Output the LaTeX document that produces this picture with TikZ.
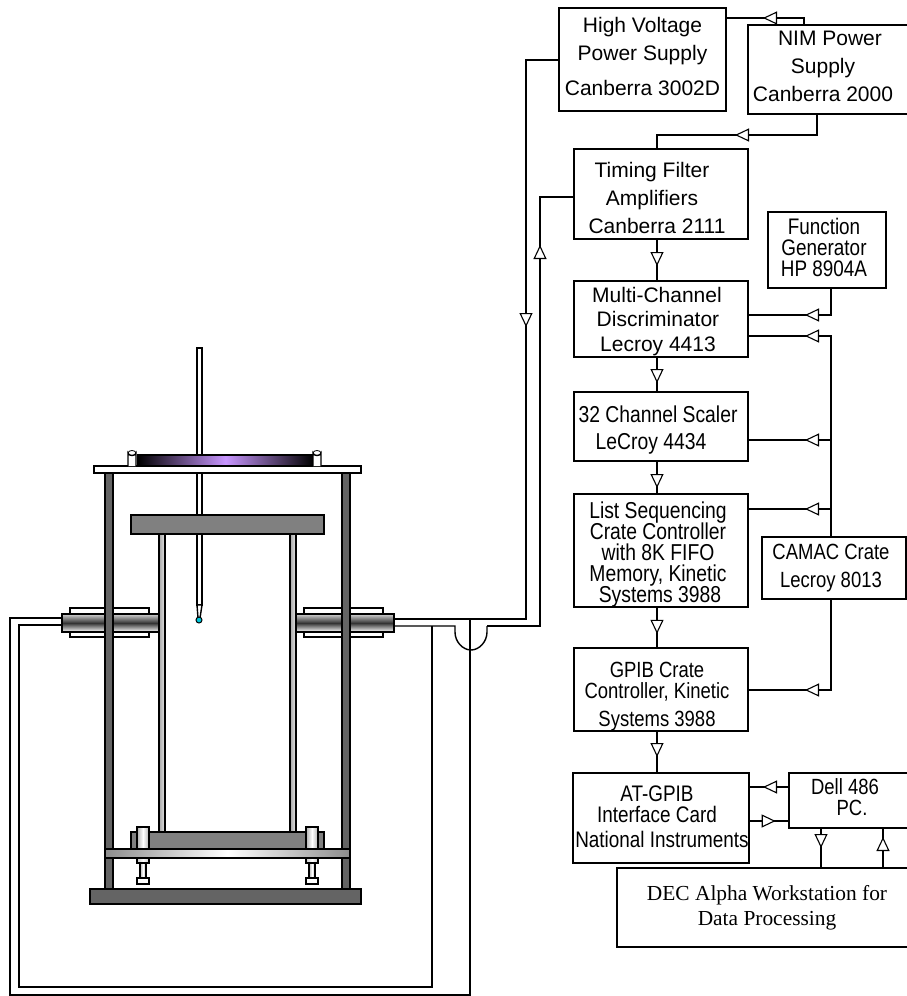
\documentclass[tikz,border=0pt]{standalone}
\usepackage{fontspec}
\setmainfont{Liberation Sans}
\newfontfamily\slimfont[FakeStretch=0.84]{Liberation Sans}
\newfontfamily\deskfont{Liberation Serif}
\usetikzlibrary{arrows.meta, decorations.markings}
\definecolor{legdark}{RGB}{100, 100, 100}
\definecolor{platemid}{RGB}{128, 128, 128}
\definecolor{diskglow}{RGB}{200, 150, 255}
\definecolor{beadcyan}{RGB}{0, 200, 220}
\newcommand{\nudge}[1]{\hspace*{#1pt}}
\newcommand{\droptext}[1]{\rule{0pt}{#1pt}}
\newcommand{\lifttext}[1]{\rule[-#1pt]{0pt}{#1pt}}
\newcommand{\tightlines}{\lineskiplimit=-20pt\relax}

\begin{document}
\begin{tikzpicture}[
  x=1pt, y=-1pt,
  unit/.style={draw, line width=2pt, outer sep=0pt, inner sep=0pt, align=center},
  widetext/.style={font=\fontsize{21}{28}\selectfont},
  slimtext/.style={font=\slimfont\fontsize{#1}{21}\selectfont\tightlines},
  wire/.style={line width=1.8pt},
  thinwire/.style={line width=1.4pt},
  part/.style={draw, line width=1.4pt},
  flowtip/.style={wire, postaction={decorate}, decoration={markings, mark=at position #1pt with {\arrow{Triangle[open, fill=white, length=14pt, width=13pt, line width=1.1pt]}}}}
]
  \useasboundingbox (0,0) rectangle (907,996);

  \node[unit, widetext, minimum width=167, minimum height=103] (hv) at (642.5,59.5) {High Voltage\\Power Supply\\[7pt]Canberra 3002D\lifttext{7}};
  \node[unit, widetext, minimum width=161, minimum height=89] (nim) at (828.5,69.5) {\nudge{3}NIM Power\\\nudge{-11}Supply\\\nudge{-11}Canberra 2000\lifttext{6}};
  \node[unit, widetext, minimum width=174, minimum height=90] (tfa) at (661,194) {\droptext{24}\nudge{-18}Timing Filter\\\nudge{-18}Amplifiers\\\nudge{-8}Canberra 2111};
  \node[unit, slimtext=22.5, minimum width=118, minimum height=76] (fgen) at (827,250) {\nudge{-6}Function\\\nudge{-6}Generator\\\nudge{-6}HP 8904A\lifttext{6}};
  \node[unit, font=\fontsize{21}{24.5}\selectfont, minimum width=174, minimum height=76] (mcd) at (661,319) {\droptext{20}\nudge{-8}Multi-Channel\\\nudge{-6}Discriminator\\\nudge{-6}Lecroy 4413};
  \node[unit, font=\slimfont\fontsize{23}{27}\selectfont, minimum width=174, minimum height=69] (scaler) at (661,426.5) {\droptext{23}\nudge{-6}32 Channel Scaler\\\nudge{-20}LeCroy 4434};
  \node[unit, slimtext=23, minimum width=174, minimum height=111] (fifo) at (661,550.5) {\droptext{24}\nudge{-6}List Sequencing\\\nudge{-6}Crate Controller\\\nudge{-6}with 8K FIFO\\\nudge{-6}Memory, Kinetic\\\nudge{-2}Systems 3988};
  \node[unit, font=\slimfont\fontsize{22}{28}\selectfont, minimum width=144, minimum height=62] (camac) at (834,568) {\nudge{-6}CAMAC Crate\\\nudge{-6}Lecroy 8013};
  \node[unit, slimtext=22, minimum width=174, minimum height=83] (gpib) at (661,689.5) {\droptext{29}\nudge{-8}GPIB Crate\\\nudge{-8}Controller, Kinetic\\[7pt]\nudge{-8}Systems 3988};
  \node[unit, slimtext=22.5, minimum width=174, minimum height=90] (atcard) at (661,818) {\nudge{-8}AT-GPIB\\\nudge{-8}Interface Card\\[4pt]\nudge{2}National Instruments\lifttext{3}};
  \node[unit, slimtext=22, minimum width=120, minimum height=55] (dell) at (849,800.5) {\nudge{-8}Dell 486\\\nudge{6}PC.\lifttext{6}};
  \node[unit, line width=1.2pt, font=\deskfont\fontsize{21.4}{25}\selectfont, minimum width=292, minimum height=79] (alpha) at (763,907.5) {\nudge{8}DEC Alpha Workstation for\\\nudge{8}Data Processing};

  \coordinate (feedA) at (394,619);
  \coordinate (feedB) at (394,626);
  \coordinate (humpL) at (455,626);
  \coordinate (humpR) at (487,626);
  \coordinate (returnA) at (62,618);
  \coordinate (returnB) at (62,625);

  \draw[flowtip=48] (nim.north -| 804,0) -- (804,18) -- (hv.east |- 0,18);
  \draw[flowtip=300] (hv.west |- 0,60) -- (526,60) -- (526,619) -- (feedA);
  \draw[flowtip=103] (nim.south -| 817,0) -- (817,135) -- (657,135) -- (tfa.north -| 657,0);
  \draw[flowtip=434] (humpR) -- (540,626) -- (540,197) -- (tfa.west |- 0,197);
  \draw[flowtip=27] (tfa.south -| 657,0) -- (mcd.north -| 657,0);
  \draw[flowtip=26] (mcd.south -| 657,0) -- (scaler.north -| 657,0);
  \draw[flowtip=27] (scaler.south -| 657,0) -- (fifo.north -| 657,0);
  \draw[flowtip=27] (fifo.south -| 657,0) -- (gpib.north -| 657,0);
  \draw[flowtip=26] (gpib.south -| 657,0) -- (atcard.north -| 657,0);
  \draw[flowtip=53] (fgen.south -| 831,0) -- (831,315) -- (mcd.east |- 0,315);
  \draw[flowtip=227] (camac.north -| 831,0) -- (831,336) -- (mcd.east |- 0,336);
  \draw[flowtip=26] (831,440) -- (scaler.east |- 0,440);
  \draw[flowtip=26] (831,509) -- (fifo.east |- 0,509);
  \draw[flowtip=117] (camac.south -| 831,0) -- (831,690) -- (gpib.east |- 0,690);
  \draw[flowtip=26] (dell.west |- 0,787) -- (atcard.east |- 0,787);
  \draw[flowtip=27] (atcard.east |- 0,821) -- (dell.west |- 0,821);
  \draw[flowtip=20] (dell.south -| 821,0) -- (alpha.north -| 821,0);
  \draw[flowtip=31] (alpha.north -| 883,0) -- (dell.south -| 883,0);

  \draw[thinwire] (feedB) -- (humpL) -- (455,632) .. controls (455,642) and (463,650) .. (471,650) .. controls (479,650) and (487,642) .. (487,632) -- (humpR);
  \draw[thinwire] (feedB -| 432,0) -- (432,987) -- (19,987) -- (19,625) -- (returnB);
  \draw[thinwire] (feedA -| 470,0) -- (470,995) -- (10,995) -- (10,618) -- (returnA);

  \draw[part, fill=white] (197,348) rectangle (202,605);
  \draw[part, fill=white] (197,605) -- (202,605) -- (200,618) -- (198,618) -- cycle;
  \draw[part, line width=1pt, fill=beadcyan] (199,620) circle (3);

  \foreach \cx in {62,296} {
    \draw[part, fill=white] (\cx+8,608) rectangle (\cx+87,637);
    \draw[part, top color=gray!35, bottom color=white, middle color=black!80] (\cx,614) rectangle (\cx+98,632);
  }
  \foreach \cx in {105,342} {
    \draw[part, fill=legdark] (\cx,473) rectangle (\cx+8,891);
  }
  \foreach \cx in {159,290} {
    \draw[part, left color=gray!70, right color=gray!20] (\cx,534) rectangle (\cx+6,833);
  }

  \draw[part, fill=white] (94,466) rectangle (361,473);
  \draw[part, left color=black, right color=black, middle color=diskglow] (138,455) rectangle (313,466);
  \foreach \cx in {128,313} {
    \draw[part, fill=white] (\cx,466) -- (\cx,453) arc (180:0:4 and 2.5) -- (\cx+8,466);
    \draw[part, line width=0.8pt] (\cx,453) arc (180:360:4 and 2.5);
  }
  \draw[part, fill=platemid] (131,515) rectangle (324,534);
  \draw[part, fill=platemid] (131,832) rectangle (324,850);
  \foreach \cx in {137,306} {
    \draw[part, left color=gray!60, right color=gray!60, middle color=white] (\cx,827) rectangle (\cx+12,849);
    \draw[part, left color=gray!40, right color=gray!40, middle color=white] (\cx,858) rectangle (\cx+12,863);
    \draw[part, left color=gray!60, right color=gray!60, middle color=white] (\cx+3,863) rectangle (\cx+9,878);
    \draw[part, fill=white] (\cx,878) rectangle (\cx+12,884);
  }
  \draw[part, left color=gray!90, right color=gray!90, middle color=white] (105,849) rectangle (350,858);
  \draw[part, fill=legdark] (90,889) rectangle (361,904);
\end{tikzpicture}
\end{document}
